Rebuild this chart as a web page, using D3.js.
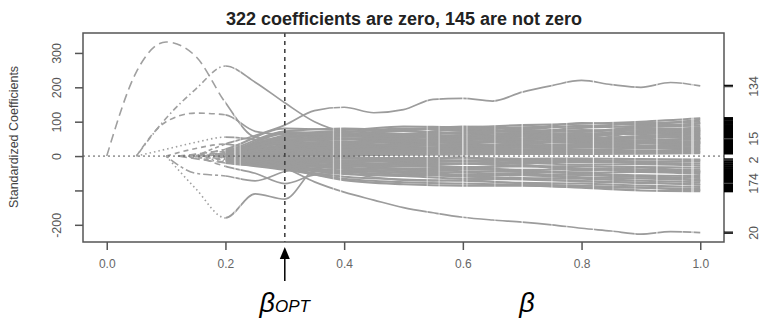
<!DOCTYPE html>
<html>
<head>
<meta charset="utf-8">
<script src="https://cdn.jsdelivr.net/npm/d3@7"></script>
<style>
  body { margin: 0; background: #fff; }
  svg { font-family: "Liberation Sans", Arial, sans-serif; }
</style>
</head>
<body>
<div id="chart"></div>
<script>
// knots for the main (highlighted) coefficient paths
var beta = [0, 0.05, 0.1, 0.15, 0.2, 0.25, 0.3, 0.35, 0.4, 0.45, 0.5,
            0.55, 0.6, 0.65, 0.7, 0.75, 0.8, 0.85, 0.9, 0.95, 1.0];

// null = coefficient still zero (not active yet)
var pathHump  = [0, 245, 332, 290, 155, 55, 45, 35, 40, 35, 30, 38, 42, 40, 35, 42, 48, 45, 42, 46, 50];
var path260   = [null, 0, 110, 195, 262, 215, 155, 100, 70, 60, 55, 60, 62, 58, 60, 65, 62, 68, 70, 72, 75];
var path125   = [null, 0, 100, 125, 120, 72, 62, 55, 48, 52, 50, 56, 52, 58, 62, 58, 55, 62, 66, 64, 68];
var path134   = [null, null, null, 0, 35, 60, 90, 132, 142, 126, 135, 165, 168, 160, 186, 205, 220, 208, 200, 214, 204];
var pathTrough= [null, null, 0, -95, -180, -110, -125, -40, -25, -30, -22, -28, -32, -30, -26, -34, -38, -35, -40, -42, -44];
var path20    = [null, null, null, null, 0, -20, -35, -75, -105, -128, -150, -165, -178, -186, -192, -200, -210, -218, -227, -220, -223];
var pathLow1  = [null, null, 0, -50, -58, -72, -45, -30, -38, -45, -50, -55, -60, -62, -66, -70, -72, -74, -78, -80, -84];
var pathLow2  = [null, null, null, 0, -30, -50, -80, -55, -50, -62, -70, -72, -70, -74, -80, -84, -86, -88, -92, -96, -99];
var pathLeft1 = [null, 0, 20, 40, 55, 48, 40, 30, 36, 40, 44, 42, 46, 50, 48, 52, 55, 54, 58, 60, 62];
var pathLeft2 = [null, null, 0, 22, 35, 20, 15, 25, 20, 18, 22, 24, 20, 26, 28, 25, 30, 32, 30, 34, 36];
var mainPaths = [pathHump, path260, path125, path134, pathTrough, path20, pathLow1, pathLow2, pathLeft1, pathLeft2];
var mainLty   = ["9,5", "1.5,3,6,3", "6,4", "4,3", "1.5,3", "5,3", "3,3,9,3", "6,4", "1.5,3", "5,4"];

// knots for the dense band of smaller coefficients
var bandBeta  = [0.2, 0.3, 0.4, 0.5, 0.6, 0.7, 0.8, 0.9, 1.0];
var bandStart = [0.12, 0.14, 0.16, 0.18, 0.15, 0.2, 0.17, 0.19, 0.13, 0.21,
                 0.16, 0.22, 0.18, 0.2, 0.23, 0.19, 0.24, 0.2, 0.25, 0.21,
                 0.26, 0.22, 0.27, 0.23, 0.28, 0.24, 0.26, 0.22, 0.2, 0.25,
                 0.19, 0.21, 0.17, 0.23, 0.18, 0.2, 0.16, 0.15, 0.14, 0.13,
                 0.12, 0.22, 0.24, 0.18, 0.26, 0.21, 0.2, 0.25, 0.23, 0.19];
var bandValues = [
  [20, 80, 76, 86, 84, 90, 94, 100, 110],
  [15, 72, 80, 74, 86, 80, 96, 92, 106],
  [10, 66, 70, 80, 74, 84, 86, 96, 100],
  [5, 60, 72, 64, 78, 72, 82, 88, 94],
  [12, 56, 62, 72, 66, 76, 72, 84, 88],
  [null, 52, 60, 58, 68, 66, 76, 74, 84],
  [8, 46, 56, 54, 60, 68, 64, 76, 78],
  [3, 44, 48, 56, 52, 60, 66, 64, 72],
  [18, 40, 50, 46, 56, 52, 60, 66, 68],
  [null, 38, 42, 48, 46, 56, 52, 58, 64],
  [9, 36, 40, 40, 50, 46, 54, 52, 60],
  [null, 32, 38, 44, 40, 48, 46, 54, 56],
  [6, 30, 32, 36, 42, 40, 48, 46, 52],
  [null, 28, 34, 32, 36, 42, 40, 46, 48],
  [null, 26, 28, 34, 30, 36, 42, 40, 44],
  [4, 22, 26, 28, 34, 30, 36, 38, 42],
  [null, 20, 24, 24, 28, 32, 30, 36, 38],
  [null, 18, 20, 26, 24, 28, 32, 30, 34],
  [null, 16, 18, 20, 22, 24, 26, 28, 30],
  [null, 12, 16, 18, 20, 20, 24, 24, 26],
  [null, 10, 14, 14, 16, 18, 18, 22, 22],
  [null, 8, 10, 12, 14, 14, 16, 16, 20],
  [null, 6, 8, 8, 10, 12, 12, 14, 15],
  [null, 4, 6, 6, 8, 8, 10, 10, 12],
  [null, 2, 3, 4, 5, 6, 6, 7, 8],
  [null, -3, -4, -6, -5, -8, -7, -9, -10],
  [null, -5, -8, -10, -12, -11, -14, -15, -16],
  [null, -8, -12, -14, -16, -18, -17, -20, -22],
  [null, -10, -15, -18, -22, -20, -25, -24, -28],
  [null, -12, -18, -24, -22, -28, -30, -32, -34],
  [-4, -15, -22, -26, -32, -30, -36, -40, -40],
  [null, -18, -26, -30, -34, -40, -38, -44, -46],
  [-8, -20, -28, -36, -38, -42, -48, -46, -52],
  [null, -22, -34, -38, -44, -46, -50, -56, -58],
  [-6, -25, -36, -44, -48, -54, -55, -60, -64],
  [null, -28, -42, -48, -54, -56, -62, -65, -70],
  [-10, -30, -46, -54, -58, -64, -66, -72, -76],
  [-12, -34, -52, -58, -66, -68, -74, -78, -82],
  [-15, -38, -60, -68, -72, -78, -80, -86, -90],
  [-18, -40, -66, -76, -80, -84, -90, -92, -96],
  [-20, -36, -70, -82, -86, -86, -92, -100, -102],
  [null, 70, 64, 78, 82, 78, 88, 84, 96],
  [null, 58, 66, 62, 70, 74, 70, 80, 80],
  [6, 48, 52, 42, 58, 62, 58, 70, 74],
  [null, 24, 36, 30, 44, 38, 50, 44, 54],
  [null, 14, 24, 20, 30, 26, 34, 28, 40],
  [null, -6, -2, -12, -4, -16, -10, -18, -12],
  [null, -16, -30, -20, -36, -26, -42, -34, -48],
  [null, -26, -48, -40, -58, -50, -64, -58, -72],
  [-2, 40, 28, 52, 36, 60, 44, 70, 50]
];

// beta values where the step breaks leave pale vertical streaks
var streakBeta = [0.216, 0.225, 0.382, 0.394, 0.54, 0.56, 0.6, 0.607, 0.654,
                  0.70, 0.75, 0.775, 0.82, 0.853, 0.89, 0.927, 0.97, 0.987];

// right axis: variable index labels at their final value
var rightLabelValues = [204, 52, -10, -78, -222];
var rightLabels = ["134", "15", "2", "174", "20"];

var xTicks = [0, 0.2, 0.4, 0.6, 0.8, 1.0];
var yTicks = [-200, -100, 0, 100, 200, 300];
var betaOpt = 0.3;
var title = "322 coefficients are zero, 145 are not zero";

var W = 760, H = 321;
var box = { left: 83, right: 724, top: 33, bottom: 242 };
var dashEnd = 0.2;  // sparse steps before this -> dashes show

var svg = d3.select("#chart").append("svg")
  .attr("width", W).attr("height", H);

var x = d3.scaleLinear().domain([-0.04, 1.04]).range([box.left, box.right]);
var y = d3.scaleLinear().domain([-250, 358]).range([box.bottom, box.top]);

var defs = svg.append("defs");
defs.append("clipPath").attr("id", "clipLeft")
  .append("rect")
  .attr("x", box.left).attr("y", box.top)
  .attr("width", x(dashEnd) - box.left).attr("height", box.bottom - box.top);
defs.append("clipPath").attr("id", "clipRight")
  .append("rect")
  .attr("x", x(dashEnd)).attr("y", box.top)
  .attr("width", box.right - x(dashEnd)).attr("height", box.bottom - box.top);

var mask = defs.append("mask").attr("id", "streaks")
  .attr("maskUnits", "userSpaceOnUse")
  .attr("x", 0).attr("y", 0).attr("width", W).attr("height", H);
mask.append("rect").attr("width", W).attr("height", H).attr("fill", "#fff");
mask.selectAll("line")
  .data(streakBeta)
  .enter().append("line")
  .attr("x1", function (d) { return x(d); })
  .attr("x2", function (d) { return x(d); })
  .attr("y1", 0).attr("y2", H)
  .attr("stroke", "#000")
  .attr("stroke-opacity", function (d, i) { return i % 3 === 0 ? 0.8 : 0.5; })
  .attr("stroke-width", function (d) { return d > 0.98 ? 3 : 1.2; });

// R style line types
var lty = ["7,4", "5,5", "1.5,4", "1.5,4,5,4", "9,4", "3,3,9,3"];

var line = d3.line()
  .x(function (d) { return x(d[0]); })
  .y(function (d) { return y(d[1]); })
  .curve(d3.curveMonotoneX);

// build band paths: start at zero at entry, then the knots after it
var bandPaths = bandValues.map(function (vals, i) {
  var s = bandStart[i];
  var pts = [[s, 0]];
  bandBeta.forEach(function (b, j) {
    if (b > s && vals[j] != null) pts.push([b, vals[j]]);
  });
  return pts;
});

var mainPts = mainPaths.map(function (vals) {
  var pts = [];
  vals.forEach(function (v, j) {
    if (v != null) pts.push([beta[j], v]);
  });
  return pts;
});

var allPaths = bandPaths.concat(mainPts);
var nBand = bandPaths.length;

// dashed part (left, sparse steps)
svg.append("g").attr("clip-path", "url(#clipLeft)")
  .selectAll("path")
  .data(allPaths)
  .enter().append("path")
  .attr("d", line)
  .attr("fill", "none")
  .attr("stroke", "#a0a0a0")
  .attr("stroke-width", 1.6)
  .attr("stroke-dasharray", function (d, i) {
    return i < nBand ? lty[i % 6] : mainLty[i - nBand];
  });

// solid part (right, dense steps)
svg.append("g").attr("clip-path", "url(#clipRight)")
  .append("g").attr("mask", "url(#streaks)")
  .selectAll("path")
  .data(allPaths)
  .enter().append("path")
  .attr("d", line)
  .attr("fill", "none")
  .attr("stroke", "#9c9c9c")
  .attr("stroke-width", function (d, i) { return i < nBand ? 2.1 : 1.7; });

// zero line
svg.append("line")
  .attr("x1", box.left).attr("x2", box.right)
  .attr("y1", y(0)).attr("y2", y(0))
  .attr("stroke", "#555").attr("stroke-width", 1)
  .attr("stroke-dasharray", "2,3");

// beta opt
svg.append("line")
  .attr("x1", x(betaOpt)).attr("x2", x(betaOpt))
  .attr("y1", box.top).attr("y2", box.bottom)
  .attr("stroke", "#444").attr("stroke-width", 1.6)
  .attr("stroke-dasharray", "4,4");

// box
svg.append("rect")
  .attr("x", box.left).attr("y", box.top)
  .attr("width", box.right - box.left).attr("height", box.bottom - box.top)
  .attr("fill", "none").attr("stroke", "#555").attr("stroke-width", 1.5);

// bottom axis
var xAxis = svg.append("g")
  .attr("transform", "translate(0," + box.bottom + ")")
  .call(d3.axisBottom(x).tickValues(xTicks).tickFormat(d3.format(".1f")).tickSize(8).tickPadding(9));
xAxis.select(".domain").remove();
xAxis.selectAll("line").attr("stroke", "#555").attr("stroke-width", 1.5);
xAxis.selectAll("text").attr("fill", "#666").style("font-size", "12px");

// left axis, labels rotated like R (-100 left unlabelled)
var yAxis = svg.append("g")
  .attr("transform", "translate(" + box.left + ",0)")
  .call(d3.axisLeft(y).tickValues(yTicks).tickSize(8).tickFormat(function (d) {
    return d === -100 ? "" : d;
  }));
yAxis.select(".domain").remove();
yAxis.selectAll("line").attr("stroke", "#555").attr("stroke-width", 1.5);
yAxis.selectAll("text")
  .attr("x", 0).attr("dy", 0)
  .attr("transform", "translate(-26,0) rotate(-90)")
  .attr("text-anchor", "middle")
  .attr("dominant-baseline", "central")
  .attr("fill", "#555").style("font-size", "12.5px");

// right rug: final value of every active coefficient
var endValues = allPaths.map(function (p) { return p[p.length - 1][1]; });

svg.append("g").selectAll("line")
  .data(endValues)
  .enter().append("line")
  .attr("x1", box.right).attr("x2", box.right + 9)
  .attr("y1", function (d) { return y(d); })
  .attr("y2", function (d) { return y(d); })
  .attr("stroke", "#000").attr("stroke-width", 2.4);

var rAxis = svg.append("g")
  .attr("transform", "translate(" + box.right + ",0)")
  .call(d3.axisRight(y).tickValues(rightLabelValues).tickSize(9)
    .tickFormat(function (d, i) { return rightLabels[i]; }));
rAxis.select(".domain").remove();
rAxis.selectAll("line").attr("stroke", "#444").attr("stroke-width", 1.3);
rAxis.selectAll("text")
  .attr("x", 0).attr("dy", 0)
  .attr("transform", "translate(30,0) rotate(-90)")
  .attr("text-anchor", "middle")
  .attr("dominant-baseline", "central")
  .attr("fill", "#555").style("font-size", "12.5px");

// title
svg.append("text")
  .attr("x", 404).attr("y", 25)
  .attr("text-anchor", "middle")
  .style("font-size", "18px").style("font-weight", "bold")
  .attr("fill", "#222")
  .text(title);

// y label
svg.append("text")
  .attr("transform", "translate(18,137) rotate(-90)")
  .attr("text-anchor", "middle")
  .style("font-size", "12.5px")
  .attr("fill", "#444")
  .text("Standardized Coefficients");

// arrow to beta opt
svg.append("line")
  .attr("x1", x(betaOpt)).attr("x2", x(betaOpt))
  .attr("y1", 281).attr("y2", 256)
  .attr("stroke", "#000").attr("stroke-width", 1.5);
svg.append("path")
  .attr("d", d3.line()([[x(betaOpt), 247], [x(betaOpt) - 5, 259], [x(betaOpt) + 5, 259]]))
  .attr("fill", "#000");

var opt = svg.append("text")
  .attr("x", x(betaOpt)).attr("y", 312)
  .attr("text-anchor", "middle")
  .style("font-style", "italic")
  .attr("fill", "#000");
opt.append("tspan").style("font-size", "27px").text("β");
opt.append("tspan").style("font-size", "17px").text("OPT");

svg.append("text")
  .attr("x", 527).attr("y", 312)
  .attr("text-anchor", "middle")
  .style("font-style", "italic").style("font-size", "27px")
  .attr("fill", "#000")
  .text("β");
</script>
</body>
</html>
